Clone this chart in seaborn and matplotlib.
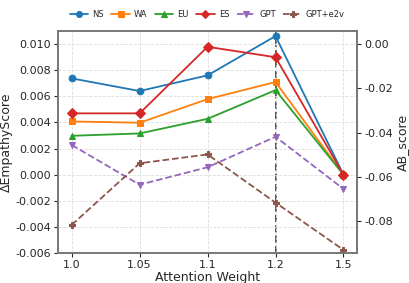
import matplotlib
matplotlib.use("Agg")
import matplotlib.pyplot as plt
import seaborn as sns
import pandas as pd

weights = ["1.0", "1.05", "1.1", "1.2", "1.5"]
ns = [0.00738, 0.00641, 0.00761, 0.01062, 0.0]
wa = [0.00408, 0.00398, 0.00579, 0.00710, 0.0]
eu = [0.00298, 0.00316, 0.00428, 0.00648, 0.0]
es = [0.00470, 0.00470, 0.00980, 0.00900, 0.0]
gpt = [-0.0456, -0.0636, -0.0557, -0.0419, -0.0655]
gpt_e2v = [-0.0818, -0.0539, -0.0499, -0.0717, -0.0931]

sns.set_style("white")
plt.rcParams['font.family'] = ['DejaVu Sans']

fig = plt.figure(figsize=(4.09, 2.83), dpi=100)
ax = fig.add_axes([0.142, 0.106, 0.731, 0.784])
ax2 = ax.twinx()

left_series = [("NS", ns, "#1f77b4", "o"), ("WA", wa, "#ff7f0e", "s"),
               ("EU", eu, "#2ca02c", "^"), ("ES", es, "#d62728", "D")]
right_series = [("GPT", gpt, "#9467bd", "v"), ("GPT+e2v", gpt_e2v, "#8c564b", "P")]

for name, vals, col, mk in left_series:
    df = pd.DataFrame({"w": weights, "v": vals})
    sns.lineplot(data=df, x="w", y="v", ax=ax, color=col, marker=mk, markersize=4.8,
                 markeredgecolor=col, linewidth=1.3, label=name, sort=False)
for name, vals, col, mk in right_series:
    df = pd.DataFrame({"w": weights, "v": vals})
    sns.lineplot(data=df, x="w", y="v", ax=ax2, color=col, marker=mk, markersize=4.8,
                 markeredgecolor=col, linewidth=1.3, linestyle="--", label=name, sort=False)

ax.axvline(weights.index("1.2"), color="#555555", linestyle="--", linewidth=1.4, zorder=0)

ax.set_xlim(-0.2, 4.2)
ax.set_ylim(-0.006, 0.011)
ax2.set_ylim(-0.0945, 0.0059)
ax.set_yticks([-0.006, -0.004, -0.002, 0.0, 0.002, 0.004, 0.006, 0.008, 0.010])
ax2.set_yticks([-0.08, -0.06, -0.04, -0.02, 0.0])
ax.yaxis.set_major_formatter(matplotlib.ticker.FormatStrFormatter('%.3f'))
ax2.yaxis.set_major_formatter(matplotlib.ticker.FormatStrFormatter('%.2f'))

ax.grid(True, linestyle="--", linewidth=0.6, color="#dddddd")
ax.set_xlabel("Attention Weight", fontsize=9, labelpad=1)
ax.set_ylabel("ΔEmpathyScore", fontsize=9, labelpad=2)
ax2.set_ylabel("AB_score", fontsize=9, labelpad=2)
for a in (ax, ax2):
    a.tick_params(axis="both", labelsize=8, length=3, width=0.8, pad=2, direction="out")
    for s in a.spines.values():
        s.set_color("#777777")
        s.set_linewidth(1.2)
ax.tick_params(left=True, bottom=True)
ax2.tick_params(right=True)

h1, l1 = ax.get_legend_handles_labels()
h2, l2 = ax2.get_legend_handles_labels()
ax.get_legend().remove()
ax2.get_legend().remove()
fig.legend(h1 + h2, l1 + l2, loc="upper center", bbox_to_anchor=(0.507, 0.99), ncol=6,
           frameon=False, fontsize=6, handlelength=2.2, columnspacing=0.9, handletextpad=0.5,
           markerscale=0.9)

fig.savefig("out.png", dpi=100)
